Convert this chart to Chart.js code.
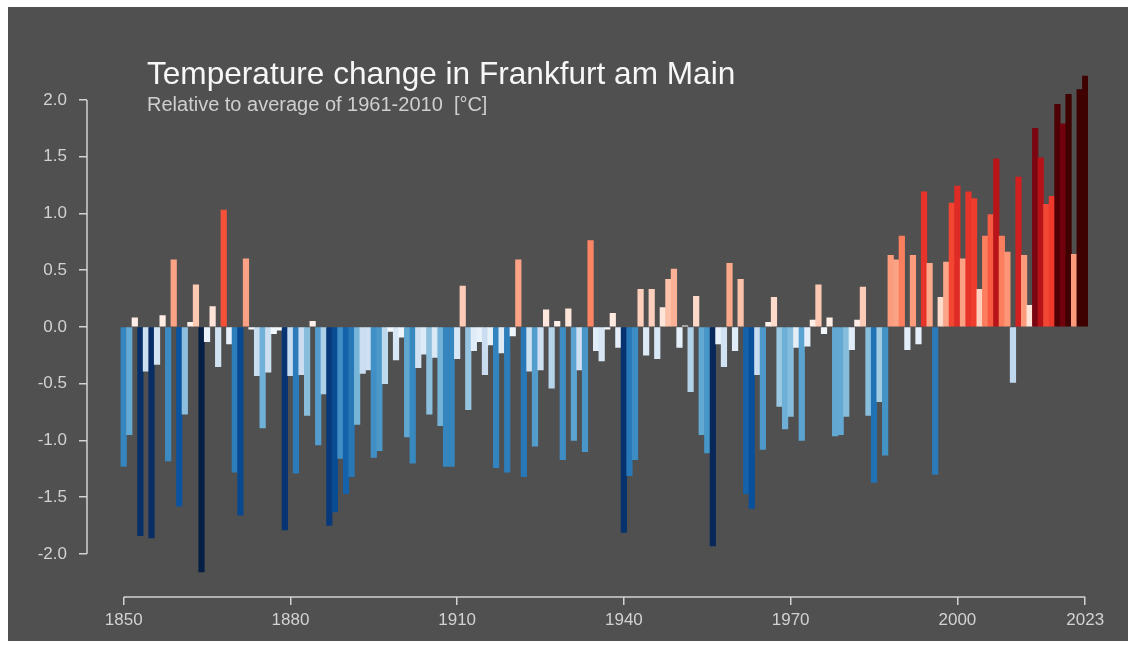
<!DOCTYPE html>
<html>
<head>
<meta charset="utf-8">
<script src="https://cdn.jsdelivr.net/npm/chart.js@4"></script>
<style>
  body { margin: 0; background: #fff; }
  #box { position: absolute; left: 8px; top: 7px; width: 1120px; height: 634px; background: #505050; }
  #title { position: absolute; left: 139px; top: 51px; font: 31.6px/1 'Liberation Sans', Arial, sans-serif; color: #f7f7f7; white-space: pre; }
  #subtitle { position: absolute; left: 139px; top: 87px; font: 20px/1 'Liberation Sans', Arial, sans-serif; color: #cfcfcf; white-space: pre; }
  canvas { position: absolute; left: 0; top: 0; }
</style>
</head>
<body>
<div id="box">
  <canvas id="stripes" width="1120" height="634"></canvas>
  <div id="title">Temperature change in Frankfurt am Main</div>
  <div id="subtitle">Relative to average of 1961-2010  [°C]</div>
</div>
<script>
// Yearly anomalies 1850-2023
const firstYear = 1850;
const anomalies = [
  -1.23, -0.95, 0.08, -1.84, -0.39, -1.86, -0.33, 0.10, -1.18, 0.59,
  -1.58, -0.77, 0.04, 0.37, -2.16, -0.13, 0.18, -0.35, 1.03, -0.15,
  -1.28, -1.66, 0.60, -0.02, -0.43, -0.89, -0.40, -0.06, -0.03, -1.79,
  -0.43, -1.29, -0.42, -0.78, 0.05, -1.04, -0.59, -1.75, -1.63, -1.16,
  -1.47, -1.32, -0.86, -0.41, -0.38, -1.15, -1.09, -0.50, -0.04, -0.29,
  -0.09, -0.97, -1.20, -0.36, -0.24, -0.77, -0.27, -0.87, -1.23, -1.23,
  -0.28, 0.36, -0.73, -0.21, -0.13, -0.42, -0.16, -1.24, -0.23, -1.28,
  -0.08, 0.59, -1.32, -0.39, -1.05, -0.38, 0.15, -0.54, 0.05, -1.17,
  0.16, -1.00, -0.38, -1.10, 0.76, -0.21, -0.30, -0.02, 0.12, -0.18,
  -1.81, -1.31, -1.17, 0.33, -0.25, 0.33, -0.28, 0.17, 0.42, 0.51,
  -0.18, 0.01, -0.57, 0.27, -0.95, -1.11, -1.93, -0.15, -0.35, 0.56,
  -0.21, 0.42, -1.47, -1.60, -0.42, -1.08, 0.04, 0.26, -0.70, -0.90,
  -0.79, -0.18, -1.00, -0.17, 0.06, 0.37, -0.06, 0.08, -0.96, -0.95,
  -0.79, -0.20, 0.06, 0.35, -0.78, -1.37, -0.66, -1.13, 0.63, 0.59,
  0.80, -0.20, 0.63, -0.15, 1.19, 0.56, -1.30, 0.26, 0.57, 1.09,
  1.24, 0.60, 1.19, 1.13, 0.33, 0.80, 0.99, 1.48, 0.80, 0.66,
  -0.49, 1.32, 0.63, 0.19, 1.75, 1.49, 1.08, 1.15, 1.96, 1.79,
  2.05, 0.64, 2.09, 2.21
];
const years = anomalies.map((v, i) => firstYear + i);
const xTicks = [1850, 1880, 1910, 1940, 1970, 2000, 2023];
const yTicks = [-2.0, -1.5, -1.0, -0.5, 0.0, 0.5, 1.0, 1.5, 2.0];

const reds = ["#fff5f0", "#fee0d2", "#fcbba1", "#fc9272", "#fb6a4a", "#ef3b2c", "#cb181d", "#a50f15", "#67000d", "#3f0000"];
const blues = ["#f7fbff", "#deebf7", "#c6dbef", "#9ecae1", "#6baed6", "#4292c6", "#2171b5", "#08519c", "#08306b", "#061f45"];
const axisColor = "#d2d2d2";

function hexToRgb(h) {
  return [1, 3, 5].map(k => parseInt(h.substr(k, 2), 16));
}

function barColor(v) {
  const pal = v >= 0 ? reds : blues;
  const t = Math.min(Math.abs(v) / 2.05, 1) * (pal.length - 1);
  const i = Math.min(Math.floor(t), pal.length - 2);
  const f = t - i;
  const a = hexToRgb(pal[i]), b = hexToRgb(pal[i + 1]);
  const c = a.map((x, k) => Math.round(x + (b[k] - x) * f));
  return "rgb(" + c.join(",") + ")";
}

// axis lines only from first to last tick
const rangeFrame = {
  id: "rangeFrame",
  afterDraw(chart) {
    const { ctx, chartArea, scales } = chart;
    ctx.save();
    ctx.strokeStyle = axisColor;
    ctx.lineWidth = 1.5;
    ctx.beginPath();
    ctx.moveTo(scales.x.getPixelForValue(xTicks[0]), chartArea.bottom);
    ctx.lineTo(scales.x.getPixelForValue(xTicks[xTicks.length - 1]), chartArea.bottom);
    ctx.moveTo(chartArea.left, scales.y.getPixelForValue(yTicks[0]));
    ctx.lineTo(chartArea.left, scales.y.getPixelForValue(yTicks[yTicks.length - 1]));
    ctx.stroke();
    ctx.restore();
  }
};

Chart.defaults.font.family = "'Liberation Sans', Arial, sans-serif";

const ctx = document.getElementById("stripes").getContext("2d");
new Chart(ctx, {
  type: "bar",
  data: {
    datasets: [{
      data: years.map((y, i) => ({ x: y, y: anomalies[i] })),
      backgroundColor: anomalies.map(barColor),
      borderWidth: 0,
      barPercentage: 1,
      categoryPercentage: 1
    }]
  },
  options: {
    responsive: false,
    animation: false,
    layout: { padding: { top: 47.5, right: 40, left: 0, bottom: 0 } },
    plugins: { legend: { display: false }, tooltip: { enabled: false } },
    scales: {
      x: {
        type: "linear",
        min: 1843.4,
        max: 2023.5,
        offset: false,
        afterBuildTicks: s => { s.ticks = xTicks.map(v => ({ value: v })); },
        afterFit: s => { s.height = 44; },
        border: { display: false },
        grid: { offset: false, drawOnChartArea: false, tickLength: 8, color: axisColor, lineWidth: 1.5 },
        ticks: { color: axisColor, font: { size: 17 }, padding: 5, maxRotation: 0, callback: v => String(v) }
      },
      y: {
        min: -2.38,
        max: 2.4,
        afterBuildTicks: s => { s.ticks = yTicks.map(v => ({ value: v })); },
        afterFit: s => { s.width = 79; },
        border: { display: false },
        grid: { drawOnChartArea: false, tickLength: 8, color: axisColor, lineWidth: 1.5 },
        ticks: { color: axisColor, font: { size: 17 }, padding: 12, callback: v => v.toFixed(1) }
      }
    }
  },
  plugins: [rangeFrame]
});
</script>
</body>
</html>
